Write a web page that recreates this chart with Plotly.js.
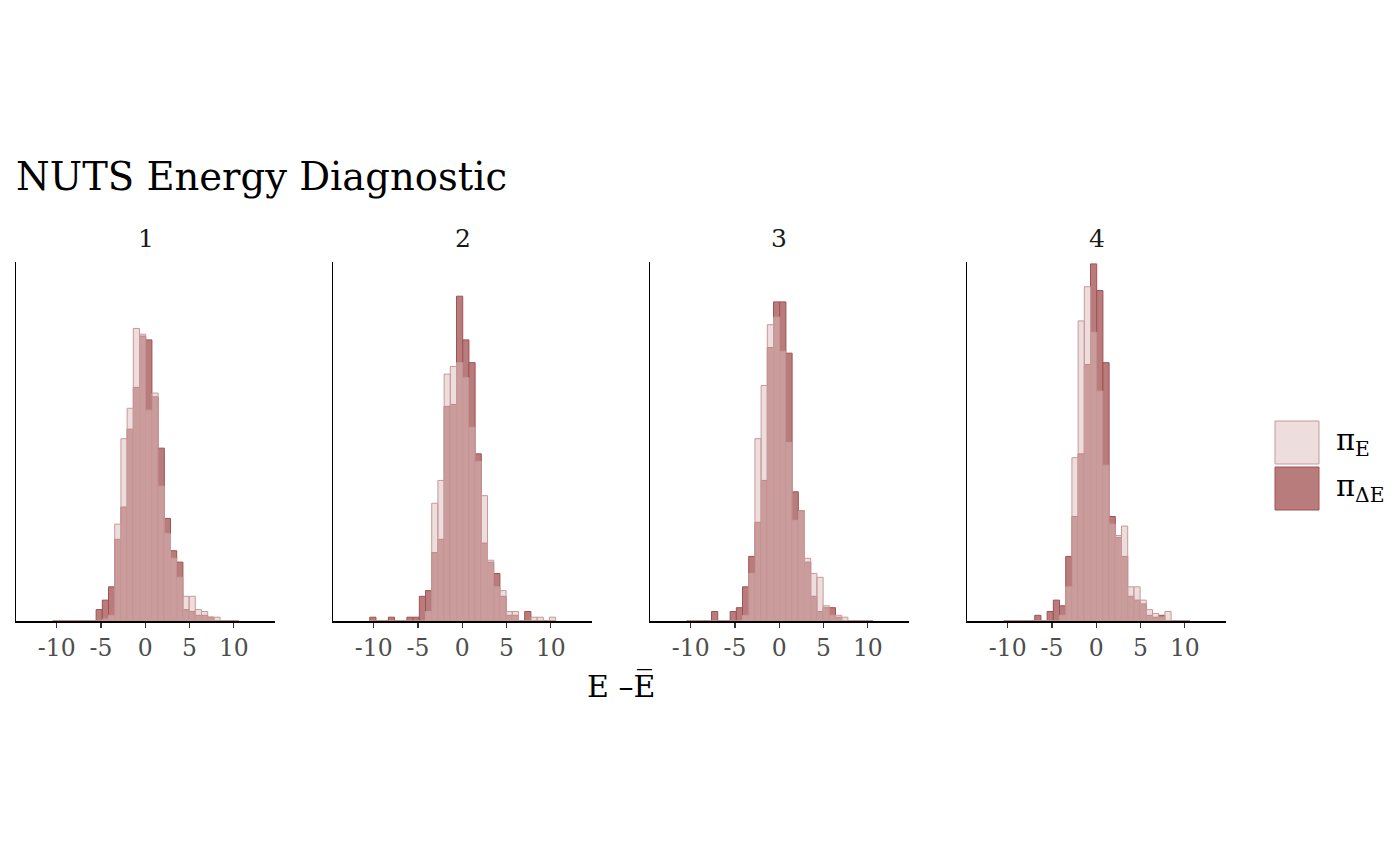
<!DOCTYPE html>
<html>
<head>
<meta charset="utf-8">
<script src="https://cdn.plot.ly/plotly-3.0.1.min.js"></script>
<style>html,body{margin:0;padding:0;background:#fff;}#chart{width:1400px;height:866px;}</style>
</head>
<body>
<div id="chart"></div>
<script>
// Bin centres (shared by all panels and both layers)
const binCenters = [-10.1,-9.4,-8.7,-8.0,-7.3,-6.6,-5.9,-5.2,-4.5,-3.8,-3.1,-2.4,-1.7,-1.0,-0.3,
                    0.4,1.1,1.8,2.5,3.2,3.9,4.6,5.3,6.0,6.7,7.4,8.1,8.8,9.5,10.2];
const binWidth = 0.7;
const chains = ["1","2","3","4"];

// pi_E  (centred energy)   -- counts per bin
const energy1 = [0,0,0,0,0,0,0,0,1,3,51,96,112,154,151,111,120,71,46,33,23,13,13,6,5,2,2,0,0,0];
const energy2 = [0,0,0,0,0,0,0,0,0,5,62,74,130,134,136,128,102,84,66,32,18,16,5,5,0,0,2,2,0,2];
const energy3 = [0,0,0,0,0,0,0,0,0,3,25,96,124,156,160,142,94,53,58,33,25,23,8,3,3,2,0,0,0,0];
const energy4 = [0,0,0,0,0,0,0,0,0,3,18,86,158,176,152,121,82,51,45,50,18,18,11,6,4,2,5,0,0,0];

// pi_deltaE (energy transitions) -- counts per bin
const deltaE1 = [0,0,0,0,0,0,0,6,11,18,43,60,101,123,150,148,118,91,54,37,31,6,5,3,3,2,0,0,0,0];
const deltaE2 = [2,0,0,2,0,0,2,2,13,16,36,43,113,114,171,148,136,88,41,31,25,13,3,3,0,5,0,0,0,0];
const deltaE3 = [0,0,0,0,5,0,0,5,7,18,34,52,74,144,168,168,141,68,58,31,13,5,7,7,2,0,0,0,0,0];
const deltaE4 = [0,0,0,0,0,3,0,5,11,8,34,55,88,135,188,174,136,55,44,34,13,11,9,3,2,3,0,0,0,0];

const tickVals = [-10,-5,0,5,10];
const tickText = ["-10","-5","0","5","10"];
const titleText = "NUTS Energy Diagnostic";
const xTitle = "E \u2013E\u0305";
const legendLabels = ["\u03C0<sub>E</sub>", "\u03C0<sub>\u0394E</sub>"];

const energyAll = [energy1, energy2, energy3, energy4];
const deltaAll = [deltaE1, deltaE2, deltaE3, deltaE4];

const W = 1400, H = 866;
const FONT = "DejaVu Serif";
const LIGHT_FILL = "rgba(220,188,188,0.5)", LIGHT_LINE = "#C79999";
const MID_FILL = "#B97C7C", MID_LINE = "#A25050";

const panelLeft = [16, 333, 650, 967];
const panelW = 259;
const yDom = [1 - 621 / H, 1 - 262 / H];

const traces = [];
const layout = {
  width: W, height: H,
  margin: {l: 0, r: 0, t: 0, b: 0},
  paper_bgcolor: "#fff", plot_bgcolor: "rgba(0,0,0,0)",
  barmode: "overlay", bargap: 0,
  showlegend: false,
  font: {family: FONT, color: "#000"},
  title: {text: titleText, x: 16 / W, xanchor: "left", xref: "paper",
          y: 1 - 177 / H, yanchor: "middle", yref: "container",
          font: {family: FONT, size: 38.5, color: "#000"}},
  annotations: [], shapes: []
};

chains.forEach((c, i) => {
  const n = i + 1;
  const xa = n === 1 ? "x" : "x" + n, ya = n === 1 ? "y" : "y" + n;
  traces.push({type: "bar", x: binCenters, y: deltaAll[i], width: binWidth,
    xaxis: xa, yaxis: ya, hoverinfo: "skip",
    marker: {color: MID_FILL, line: {color: MID_LINE, width: 1}}});
  traces.push({type: "bar", x: binCenters, y: energyAll[i], width: binWidth,
    xaxis: xa, yaxis: ya, hoverinfo: "skip",
    marker: {color: LIGHT_FILL, line: {color: LIGHT_LINE, width: 1}}});
  const d0 = panelLeft[i] / W, d1 = (panelLeft[i] + panelW) / W;
  layout["xaxis" + (n === 1 ? "" : n)] = {
    domain: [d0, d1], anchor: ya, range: [-14.6, 14.65],
    showline: true, linecolor: "#000", linewidth: 2,
    ticks: "outside", ticklen: 5, tickwidth: 1.2, tickcolor: "#333",
    tickvals: tickVals, ticktext: tickText,
    tickfont: {family: FONT, size: 23.5, color: "#4d4d4d"},
    showgrid: false, zeroline: false, fixedrange: true
  };
  layout["yaxis" + (n === 1 ? "" : n)] = {
    domain: yDom, anchor: xa, range: [0, 189],
    showline: true, linecolor: "#000", linewidth: 1.3,
    showticklabels: false, ticks: "", showgrid: false, zeroline: false, fixedrange: true
  };
  layout.annotations.push({text: c, xref: "paper", yref: "paper",
    x: (d0 + d1) / 2, y: 1 - 238 / H, xanchor: "center", yanchor: "middle",
    showarrow: false, font: {family: FONT, size: 25, color: "#1a1a1a"}});
});

// x-axis title
layout.annotations.push({text: xTitle, xref: "paper", yref: "paper",
  x: 621 / W, y: 1 - 686 / H, xanchor: "center", yanchor: "middle",
  showarrow: false, font: {family: FONT, size: 30, color: "#000"}});

// legend (drawn manually to match large keys)
const legFill = [LIGHT_FILL, MID_FILL], legLine = [LIGHT_LINE, MID_LINE];
const legTop = [421, 467];
legendLabels.forEach((lab, j) => {
  layout.shapes.push({type: "rect", xref: "paper", yref: "paper",
    x0: 1275 / W, x1: 1319 / W, y0: 1 - (legTop[j] + 43) / H, y1: 1 - legTop[j] / H,
    fillcolor: legFill[j], line: {color: legLine[j], width: 1}});
  layout.annotations.push({text: lab, xref: "paper", yref: "paper",
    x: 1334 / W, y: 1 - (legTop[j] + 21) / H, xanchor: "left", yanchor: "middle",
    showarrow: false, font: {family: FONT, size: 29, color: "#000"}});
});

Plotly.newPlot("chart", traces, layout, {staticPlot: true, displayModeBar: false});
</script>
</body>
</html>
